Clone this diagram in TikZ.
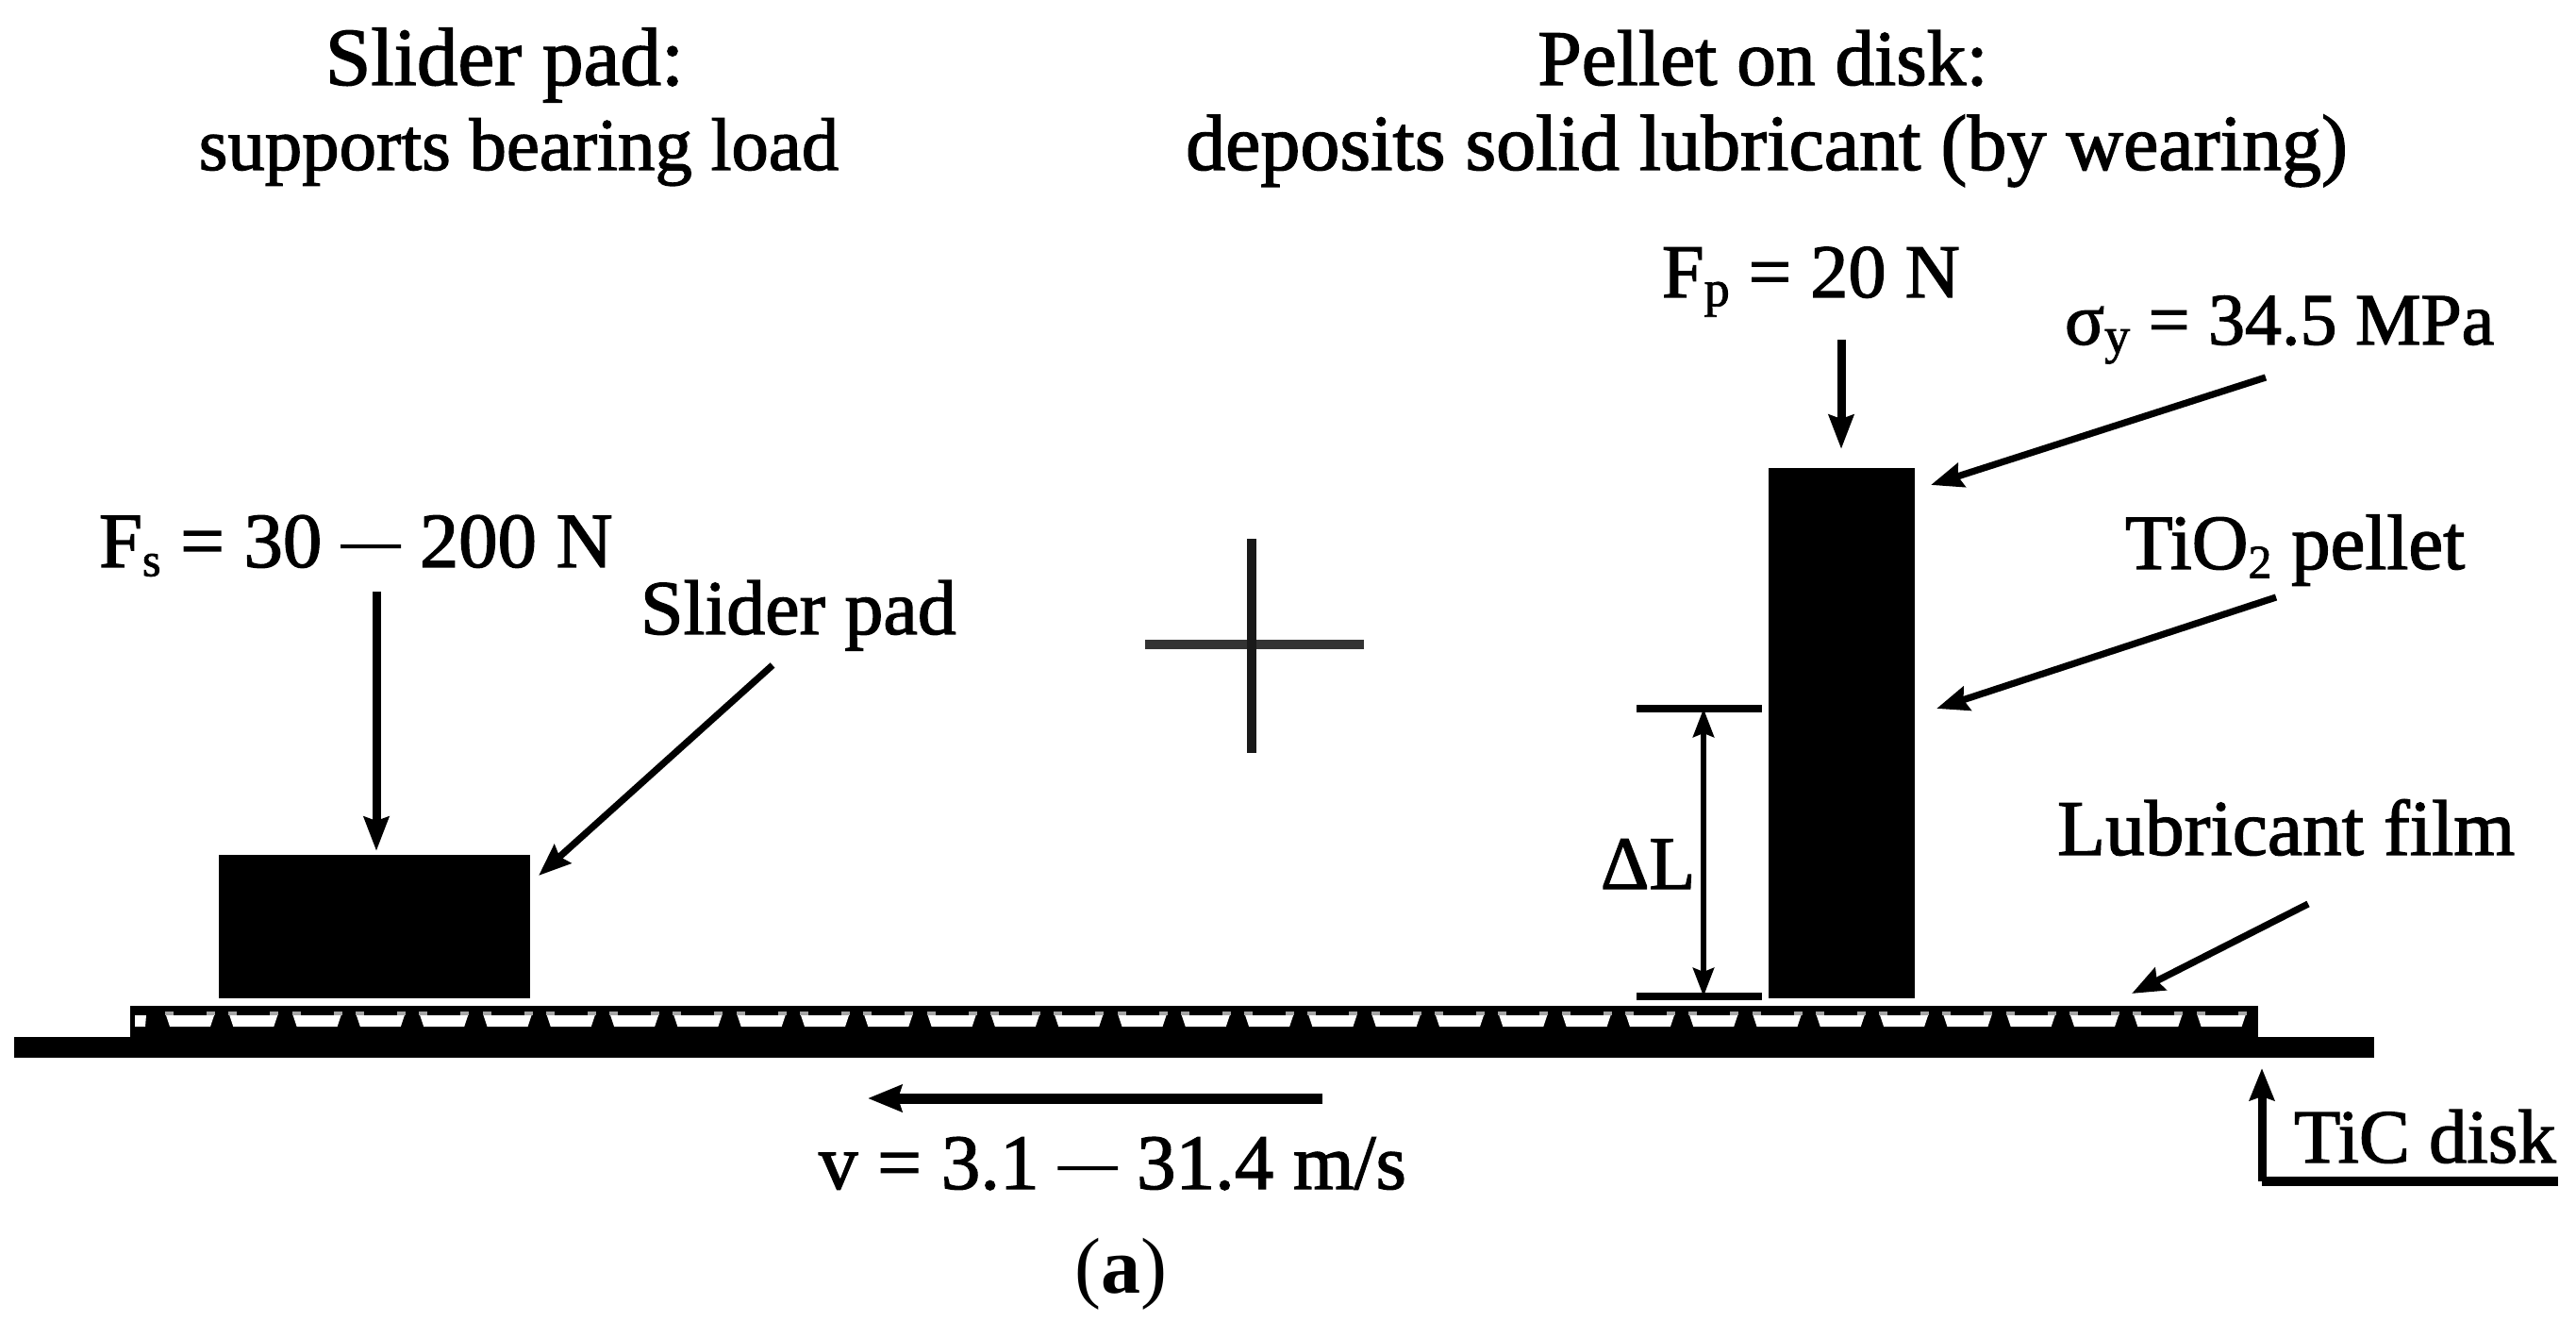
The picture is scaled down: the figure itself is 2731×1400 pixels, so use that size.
\documentclass[tikz,border=0pt]{standalone}
\usepackage{fontspec}
\setmainfont[FakeBold=1.6]{Liberation Serif}
\newfontfamily\plainserif{Liberation Serif}
\usetikzlibrary{arrows.meta}
\tikzset{
  x=0.5pt,y=-0.5pt,
  lbl/.style={anchor=base west,inner sep=0pt,outer sep=0pt},
  ctr/.style={anchor=base,inner sep=0pt,outer sep=0pt},
  solidblock/.style={fill=black,draw=none},
  arr/.style={line width=4.5pt,-{Stealth[length=18pt,width=13pt,inset=2pt]}},
  thinarr/.style={line width=3.6pt,-{Stealth[length=17pt,width=13pt,inset=2pt]}},
  rule/.style={line width=3.6pt},
}
\newcommand{\fsz}[1]{\fontsize{#1}{#1}\selectfont}
\newcommand{\lowsub}[2]{\raisebox{-0.25ex}{\fsz{#1}#2}}
\newcommand{\middash}{\raisebox{0.09em}{\fsz{31}—}}
\begin{document}
\begin{tikzpicture}
\useasboundingbox (0,0) rectangle (2731,1400);
% titles
\node[ctr,font=\fsz{43.6}] (t1) at (535,90) {Slider pad:};
\node[ctr,font=\fsz{39.4}] (t2) at (550,180) {supports bearing load};
\node[ctr,font=\fsz{41.7}] (t3) at (1869,90) {Pellet on disk:};
\node[ctr,font=\fsz{42}] (t4) at (1873,180) {deposits solid lubricant (by wearing)};
% blocks
\fill[solidblock] (232,906) rectangle (562,1058);
\fill[solidblock] (1875,496) rectangle (2030,1058);
\fill[solidblock] (138,1066) rectangle (2394,1100);
\fill[solidblock] (15,1099) rectangle (2517,1121);
% lubricant cups
\fill[white] (143,1076) -- (155,1076) -- (154,1088) -- (143,1088) -- cycle;
\foreach \i in {0,...,32}{
  \pgfmathsetmacro{\cx}{176+67.3*\i}
  \fill[black!35] (\cx-1,1072) rectangle (\cx+8,1076);
  \fill[black!35] (\cx+43,1072) rectangle (\cx+52,1076);
  \fill[white] (\cx,1076) -- (\cx+51,1076) -- (\cx+47,1088) -- (\cx+4,1088) -- cycle;
}
% plus
\fill[black!80] (1214,678) rectangle (1446,688);
\fill[black!90] (1322,571) rectangle (1332,798);
% labels
\node[lbl,font=\fsz{41.4}] (fs) at (105,601) {F\lowsub{25}{s} = 30 \middash{} 200 N};
\node[lbl,font=\fsz{41}] (sp) at (679,672) {Slider pad};
\node[lbl,font=\fsz{40.2}] (fp) at (1762,315) {F\lowsub{27}{p} = 20 N};
\node[lbl,font=\fsz{39}] (sy) at (2189,365) {σ\lowsub{27}{y} = 34.5 MPa};
\node[lbl,font=\fsz{41.4}] (ti) at (2253,603) {TiO\lowsub{25}{2} pellet};
\node[lbl,font=\fsz{40}] (dl) at (1697,942) {ΔL};
\node[lbl,font=\fsz{41.8}] (lf) at (2181,906) {Lubricant film};
\node[lbl,font=\fsz{41.5}] (vv) at (868,1260) {v = 3.1 \middash{} 31.4 m/s};
\node[lbl,font=\fsz{40.4}] (td) at (2432,1232) {TiC disk};
\node[ctr,font=\plainserif\fsz{42}] (aa) at (1188,1370) {(\textbf{a})};
% arrow ends
\coordinate (fsA) at (399,627); \coordinate (fsB) at (399,902);
\coordinate (spA) at (819,705); \coordinate (spB) at (571,928);
\coordinate (fpA) at (1952,360); \coordinate (fpB) at (1952,476);
\coordinate (syA) at (2402,400); \coordinate (syB) at (2047,514);
\coordinate (tiA) at (2413,633); \coordinate (tiB) at (2053,751);
\coordinate (lfA) at (2447,958); \coordinate (lfB) at (2260,1053);
\coordinate (vA) at (1402,1164); \coordinate (vB) at (920,1164);
\coordinate (tdC) at (2398,1252); \coordinate (tdA) at (2712,1252); \coordinate (tdB) at (2398,1132);
\coordinate (dlT) at (1806,751); \coordinate (dlB) at (1806,1056);
\coordinate (barTa) at (1735,751); \coordinate (barTb) at (1868,751);
\coordinate (barBa) at (1735,1056); \coordinate (barBb) at (1868,1056);
% arrows
\draw[arr] (fsA) -- (fsB);
\draw[thinarr] (spA) -- (spB);
\draw[arr] (fpA) -- (fpB);
\draw[thinarr] (syA) -- (syB);
\draw[thinarr] (tiA) -- (tiB);
\draw[thinarr] (lfA) -- (lfB);
\draw[line width=5.5pt,-{Stealth[length=18pt,width=14pt,inset=2pt]}] (vA) -- (vB);
\draw[line width=5pt] (tdA) -- (tdC);
\draw[line width=4.5pt,-{Stealth[length=17pt,width=13pt,inset=2pt]}] (tdC) -- (tdB);
\draw[rule] (barTa) -- (barTb);
\draw[rule] (barBa) -- (barBb);
\draw[line width=3pt,{Stealth[length=15pt,width=11pt,inset=2pt]}-{Stealth[length=15pt,width=11pt,inset=2pt]}] (dlT) -- (dlB);
\end{tikzpicture}
\end{document}
